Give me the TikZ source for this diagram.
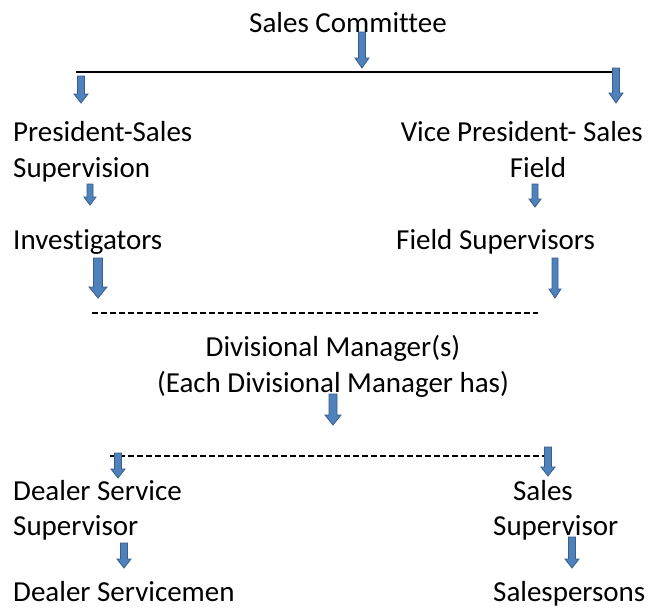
\documentclass[tikz,border=0pt]{standalone}
\usepackage{fontspec}
\setmainfont{Carlito}[Ligatures={NoCommon}]
\definecolor{arrowfill}{HTML}{4F81BD}
\definecolor{arrowline}{HTML}{385D8A}
\tikzset{
  lbl/.style={inner sep=0pt, font=\fontsize{29}{35}\selectfont},
  arrowst/.style={fill=arrowfill, draw=arrowline, line width=0.8pt},
  solidrule/.style={line width=1.5pt, black},
  dashrule/.style={line width=1.3pt, black, dash pattern=on 6pt off 3pt},
}
% x, ytop, ytip, shaft half-width, head half-width, head length
\newcommand\blockarrow[6]{%
  \filldraw[arrowst] (#1-#4,#2) -- (#1+#4,#2) -- (#1+#4,#3-#6) -- (#1+#5,#3-#6)
    -- (#1,#3) -- (#1-#5,#3-#6) -- (#1-#4,#3-#6) -- cycle;}
\begin{document}
\begin{tikzpicture}[x=1pt,y=-1pt]
\useasboundingbox (0,0) rectangle (648,611);
% texts
\node[lbl, anchor=base] (sc) at (348,32) {Sales Committee};
\node[lbl, anchor=base west] (ps1) at (13,141) {President-Sales};
\node[lbl, anchor=base west] (ps2) at (13,177) {Supervision};
\node[lbl, anchor=base east] (vp1) at (643,141) {Vice President- Sales};
\node[lbl, anchor=base] (vp2) at (538,177) {Field};
\node[lbl, anchor=base west] (inv) at (13,249) {Investigators};
\node[lbl, anchor=base west] (fs) at (396,249) {Field Supervisors};
\node[lbl, anchor=base] (dm1) at (333,356) {Divisional Manager(s)};
\node[lbl, anchor=base] (dm2) at (333,392) {(Each Divisional Manager has)};
\node[lbl, anchor=base west] (ds1) at (13,500) {Dealer Service};
\node[lbl, anchor=base west] (ds2) at (13,535) {Supervisor};
\node[lbl, anchor=base] (ss1) at (543,500) {Sales};
\node[lbl, anchor=base west] (ss2) at (493,535) {Supervisor};
\node[lbl, anchor=base west] (dsm) at (13,601) {Dealer Servicemen};
\node[lbl, anchor=base west] (sp) at (493,601) {Salespersons};
% rules
\coordinate (r1a) at (76,72);  \coordinate (r1b) at (614,72);
\coordinate (r2a) at (92,313); \coordinate (r2b) at (538,313);
\coordinate (r3a) at (110,456); \coordinate (r3b) at (545,456);
\draw[solidrule] (r1a) -- (r1b);
\draw[dashrule] (r2a) -- (r2b);
\draw[dashrule] (r3a) -- (r3b);
% block arrows
\blockarrow{362}{32}{68}{3.5}{7}{10}
\blockarrow{81}{76}{103}{3.5}{7}{9}
\blockarrow{616}{68}{103}{3.5}{7}{10}
\blockarrow{90}{184}{205}{3}{6}{8}
\blockarrow{535}{184}{207}{3}{6}{8}
\blockarrow{98}{258}{298}{4.5}{9}{11}
\blockarrow{555}{258}{298}{3}{6}{9}
\blockarrow{333}{394}{425}{4}{8}{10}
\blockarrow{118}{453}{478}{3.5}{7}{9}
\blockarrow{548}{447}{476}{3.5}{7}{9}
\blockarrow{124}{543}{568}{3.5}{7}{9}
\blockarrow{572}{537}{568}{3.5}{7}{9}
\end{tikzpicture}
\end{document}
